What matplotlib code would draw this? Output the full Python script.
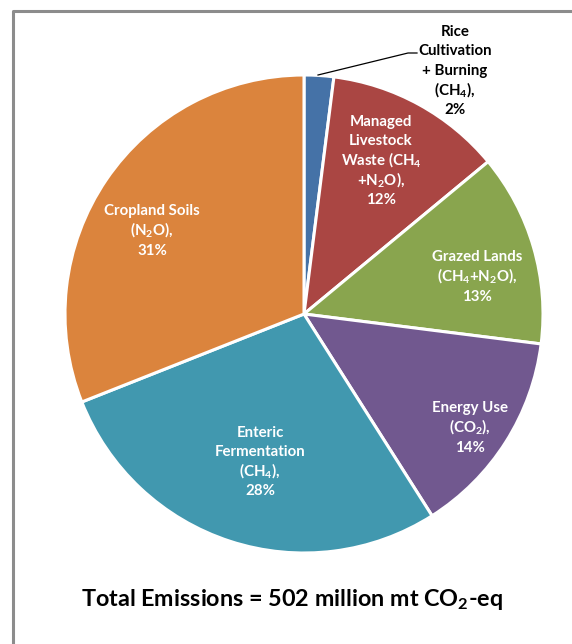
import matplotlib.pyplot as plt
from matplotlib.lines import Line2D

plt.rcParams["font.family"] = ["Lato", "DejaVu Sans"]
plt.rcParams["font.weight"] = "bold"
plt.rcParams["mathtext.fontset"] = "custom"
plt.rcParams["mathtext.rm"] = "Lato:bold"
plt.rcParams["mathtext.default"] = "rm"

# agricultural emission sources, clockwise from 12 o'clock
sources = [
    "Rice\nCultivation\n+ Burning\n(CH$_4$),",
    "Managed\nLivestock\nWaste (CH$_4$\n+N$_2$O),",
    "Grazed Lands\n(CH$_4$+N$_2$O),",
    "Energy Use\n(CO$_2$),",
    "Enteric\nFermentation\n(CH$_4$),",
    "Cropland Soils\n(N$_2$O),",
]
shares = [2, 12, 13, 14, 28, 31]
colors = ["#4572A7", "#AA4643", "#89A54E", "#71588F", "#4198AF", "#DB843D"]
total_mt = 502

W, H = 572, 644
fig = plt.figure(figsize=(W / 100, H / 100), dpi=100)
ax = fig.add_axes([0, 0, 1, 1])

cx, cy, r = 304, H - 314, 239
wedges, _ = ax.pie(shares, colors=colors, startangle=90, counterclock=False,
                   center=(cx, cy), radius=r,
                   wedgeprops=dict(edgecolor="white", linewidth=2.2))
ax.set_xlim(0, W)
ax.set_ylim(0, H)
ax.set_aspect("equal")
ax.axis("off")

# label anchor points (pixel coords, y measured from top), one text per line
# so the subscripts don't stretch the line spacing
label_pos = [(455, 70), (381, 160), (477, 276), (470, 427), (260, 461), (152, 230)]
line_step = 19.6
for i, (name, pct) in enumerate(zip(sources, shares)):
    x, y = label_pos[i]
    col = "black" if i == 0 else "white"
    lines = name.split("\n") + [f"{pct}%"]
    y0 = y - line_step * (len(lines) - 1) / 2
    for k, ln in enumerate(lines):
        baseline = y0 + k * line_step + 5
        ax.text(x, H - baseline, ln, ha="center", va="baseline",
                color=col, fontsize=10.8, fontweight="bold")

# leader line for the small rice slice
ax.add_line(Line2D([318, 408, 417], [H - 75, H - 53, H - 53], color="black", lw=0.9))

ax.text(W / 2 + 6, H - 606, f"Total Emissions = {total_mt} million mt CO$_2$-eq",
        ha="center", va="baseline", fontsize=16.8, fontweight="bold", color="black")

# chart frame (only left and top edges show)
ax.add_line(Line2D([12.5, 12.5, W], [0, H - 10.5, H - 10.5], color="#8c8c8c", lw=2.2))

fig.savefig("out.png", dpi=100, facecolor="white")
